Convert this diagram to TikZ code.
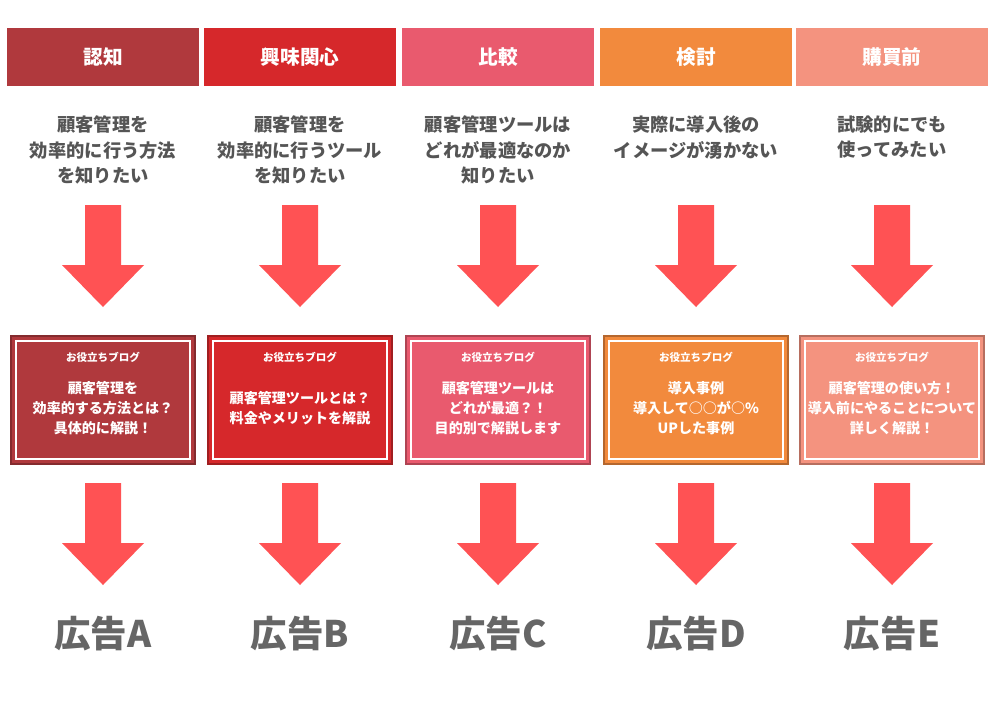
\documentclass[tikz,border=0pt]{standalone}
\usepackage{fontspec}
\setmainfont{Noto Sans CJK JP}
\usetikzlibrary{positioning}
\definecolor{cA}{HTML}{B0393D}
\definecolor{cB}{HTML}{D6282B}
\definecolor{cC}{HTML}{E95A6E}
\definecolor{cD}{HTML}{F28A3D}
\definecolor{cE}{HTML}{F4937F}
\definecolor{arrowred}{HTML}{FF5254}
\definecolor{txtgray}{HTML}{555555}
\newcommand{\bigarrow}[2]{% x, top y
  \fill[arrowred] (#1-18,#2) -- (#1+18,#2) -- (#1+18,#2+60) -- (#1+41,#2+60)
    -- (#1,#2+102) -- (#1-41,#2+60) -- (#1-18,#2+60) -- cycle;}
\begin{document}
\begin{tikzpicture}[x=0.025cm,y=-0.025cm,font=\bfseries,
  head/.style={minimum width=192*0.025cm,minimum height=58*0.025cm,inner sep=0,text=white,font=\bfseries\fontsize{14}{16}\selectfont},
  ask/.style={text=txtgray,align=center,font=\bfseries\fontsize{13}{18}\selectfont},
  card/.style={draw=#1!75!black,line width=1.5pt,fill=#1,minimum width=184*0.025cm,minimum height=128*0.025cm,inner sep=0},
  blog/.style={text=white,font=\bfseries\fontsize{7.5}{9}\selectfont},
  cardtxt/.style={text=white,align=center,font=\bfseries\fontsize{10}{14}\selectfont},
  ad/.style={text=txtgray!90,font=\bfseries\fontsize{26}{30}\selectfont}]
\useasboundingbox[fill=white] (0,0) rectangle (1000,700);

\foreach \x/\c/\name/\h/\q/\t/\ab in {
  103/cA/a/認知/{顧客管理を\\効率的に行う方法\\を知りたい}/{顧客管理を\\効率的する方法とは？\\具体的に解説！}/A,
  300/cB/b/興味関心/{顧客管理を\\効率的に行うツール\\を知りたい}/{顧客管理ツールとは？\\料金やメリットを解説}/B,
  498/cC/c/比較/{顧客管理ツールは\\どれが最適なのか\\知りたい}/{顧客管理ツールは\\どれが最適？！\\目的別で解説します}/C,
  696/cD/d/検討/{実際に導入後の\\イメージが湧かない}/{導入事例\\導入して○○が○\%\\UPした事例}/D,
  892/cE/e/購買前/{試験的にでも\\使ってみたい}/{顧客管理の使い方！\\導入前にやることについて\\詳しく解説！}/E} {
  \node[head,fill=\c] (head-\name) at (\x,57) {\h};
  \node[ask,anchor=north] (ask-\name) at (\x,111) {\q};
  \bigarrow{\x}{205}
  \node[card=\c] (card-\name) at (\x,400) {};
  \draw[white,line width=1.2pt] ([shift={(6,6)}]card-\name.north west) rectangle ([shift={(-6,-6)}]card-\name.south east);
  \node[blog] (blog-\name) at (\x,357) {お役立ちブログ};
  \node[cardtxt] (txt-\name) at (\x,408) {\t};
  \bigarrow{\x}{483}
  \node[ad] (ad-\name) at (\x,634) {広告\ab};
}
\end{tikzpicture}
\end{document}
